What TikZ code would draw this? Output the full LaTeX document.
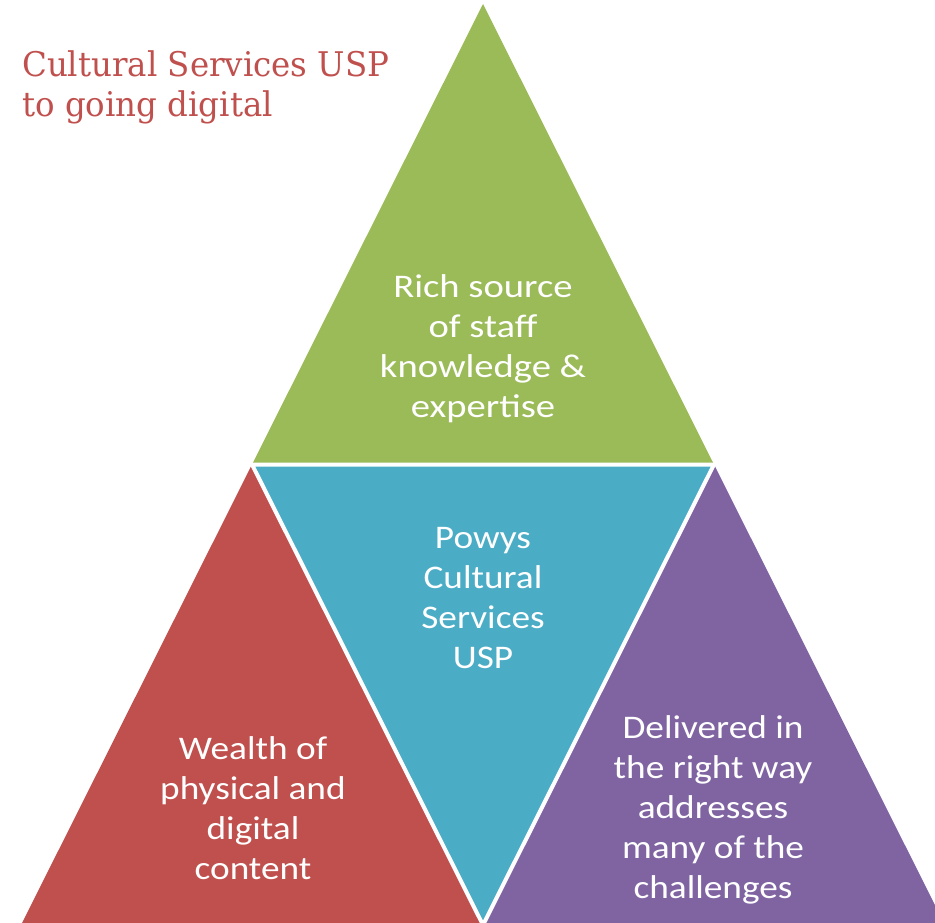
\documentclass[tikz,border=0pt]{standalone}
\usepackage{graphicx}
\usepackage{fontspec}
\setmainfont{Carlito}
\newfontfamily\titlefont{DejaVu Serif}
\definecolor{tgreen}{HTML}{9BBB59}
\definecolor{tred}{HTML}{C0504D}
\definecolor{tblue}{HTML}{4BACC6}
\definecolor{tpurple}{HTML}{8064A2}
\newcommand\wlines[2][1.13]{\scalebox{#1}[1]{\begin{tabular}{@{}c@{}}#2\end{tabular}}}
\begin{document}
\begin{tikzpicture}[x=1pt,y=-1pt,
  tri/.style={draw=white,line width=4pt,line join=miter},
  lbl/.style={text=white,align=center,font=\fontsize{33}{40}\selectfont,inner sep=0pt}]
\useasboundingbox (0,0) rectangle (935,923);
\clip (0,0) rectangle (935,923);
\coordinate (A) at (483,4);
\coordinate (L) at (21,925);
\coordinate (R) at (945,925);
\coordinate (ML) at (252,464.5);
\coordinate (MR) at (714,464.5);
\coordinate (MB) at (483,925);
\fill[tgreen] (A) -- (ML) -- (MR) -- cycle;
\fill[tred] (ML) -- (L) -- (MB) -- cycle;
\fill[tpurple] (MR) -- (MB) -- (R) -- cycle;
\fill[tblue] (ML) -- (MR) -- (MB) -- cycle;
\draw[tri] (ML) -- (MR) -- (MB) -- cycle;
\node[lbl] (g) at (483,349) {\wlines[1.17]{Rich source\\of staff\\knowledge \&\\expertise}};
\node[lbl] (b) at (483,600) {\wlines{Powys\\Cultural\\Services\\USP}};
\node[lbl] (r) at (253,811) {\wlines{Wealth of\\physical and\\digital\\content}};
\node[lbl] (p) at (713,810) {\wlines{Delivered in\\the right way\\addresses\\many of the\\challenges}};
\node[anchor=north west,inner sep=0pt,text=tred,font=\titlefont\fontsize{34}{40}\selectfont] (t) at (22,48) {\scalebox{0.955}[1]{\begin{tabular}{@{}l@{}}Cultural Services USP\\to going digital\end{tabular}}};
\end{tikzpicture}
\end{document}
